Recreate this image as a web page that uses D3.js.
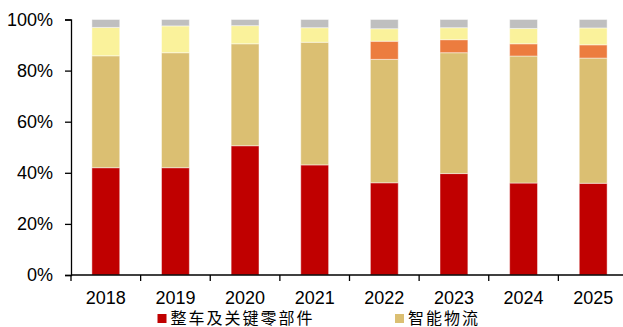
<!DOCTYPE html>
<html><head><meta charset="utf-8">
<script src="https://cdn.jsdelivr.net/npm/d3@7"></script>
<style>body{margin:0;background:#fff}svg{display:block}</style>
</head><body>
<svg id="c" width="623" height="327"></svg>
<script>
const years = ["2018","2019","2020","2021","2022","2023","2024","2025"];
const vehicleParts = [42.0, 42.0, 50.6, 43.1, 36.1, 39.7, 36.0, 35.9];
const smartLogistics = [43.8, 45.0, 39.9, 48.0, 48.3, 47.3, 49.7, 49.0];
const seriesOrange = [0, 0, 0, 0, 7.1, 5.1, 4.8, 5.2];
const seriesYellow = [11.1, 10.5, 7.1, 5.7, 4.9, 4.7, 6.0, 6.6];
const seriesGray = [3.1, 2.5, 2.4, 3.2, 3.6, 3.2, 3.5, 3.3];
const seriesNames = ["整车及关键零部件","智能物流","其他1","其他2","其他3"];
const colors = ["#C00000","#DBBF72","#EC7C3F","#FAF29B","#BFBFBF"];
const yTicks = [0,20,40,60,80,100];

const rows = years.map((y,i)=>({year:y, s0:vehicleParts[i], s1:smartLogistics[i], s2:seriesOrange[i], s3:seriesYellow[i], s4:seriesGray[i]}));
const keys = ["s0","s1","s2","s3","s4"];
const stack = d3.stack().keys(keys)(rows);

const svg = d3.select("#c");
const x = d3.scaleBand().domain(years).range([71, 628]).paddingInner(0.6).paddingOuter(0.3);
const y = d3.scaleLinear().domain([0,100]).range([275, 19.5]);

svg.append("g").selectAll("g").data(stack).join("g")
  .attr("fill",(d,i)=>colors[i])
  .selectAll("rect").data(d=>d).join("rect")
  .attr("x",d=>x(d.data.year))
  .attr("width",x.bandwidth())
  .attr("y",d=>y(d[1]))
  .attr("height",d=>Math.max(0,y(d[0])-y(d[1])))
  .attr("stroke","#fff").attr("stroke-opacity",0.45).attr("stroke-width",1);

// y axis
const yAxis = svg.append("g").attr("transform","translate(71,0)")
  .call(d3.axisLeft(y).tickValues(yTicks).tickFormat(d=>d+"%").tickSize(6).tickPadding(12));
yAxis.select(".domain").attr("stroke","#000").attr("stroke-width",1.3);
yAxis.selectAll(".tick line").attr("stroke","#000").attr("stroke-width",1.3);
yAxis.selectAll("text").attr("font-family","Liberation Sans, Arial, sans-serif").attr("font-size",18).attr("fill","#000");

// x axis
const step = x.step();
const boundaries = years.map((yr,i)=>71 + i*step);
svg.append("line").attr("x1",71).attr("x2",623).attr("y1",275).attr("y2",275).attr("stroke","#000").attr("stroke-width",1.3);
svg.append("g").selectAll("line").data(boundaries).join("line")
  .attr("x1",d=>d).attr("x2",d=>d).attr("y1",275).attr("y2",281).attr("stroke","#000").attr("stroke-width",1.3);
svg.append("g").selectAll("text").data(years).join("text")
  .attr("x",d=>x(d)+x.bandwidth()/2).attr("y",304)
  .attr("text-anchor","middle")
  .attr("font-family","Liberation Sans, Arial, sans-serif").attr("font-size",18).attr("fill","#000")
  .text(d=>d);

// legend
const legendItems = [{name:seriesNames[0], color:colors[0], x:157.5},{name:seriesNames[1], color:colors[1], x:395}];
const lg = svg.append("g").selectAll("g").data(legendItems).join("g");
lg.append("rect").attr("x",d=>d.x).attr("y",314).attr("width",9).attr("height",9).attr("fill",d=>d.color);
lg.append("text").attr("x",d=>d.x+13).attr("y",323.5)
  .attr("font-family","Noto Sans CJK SC, sans-serif").attr("font-size",16).attr("letter-spacing",2).attr("fill","#000")
  .text(d=>d.name);
</script>
</body></html>
